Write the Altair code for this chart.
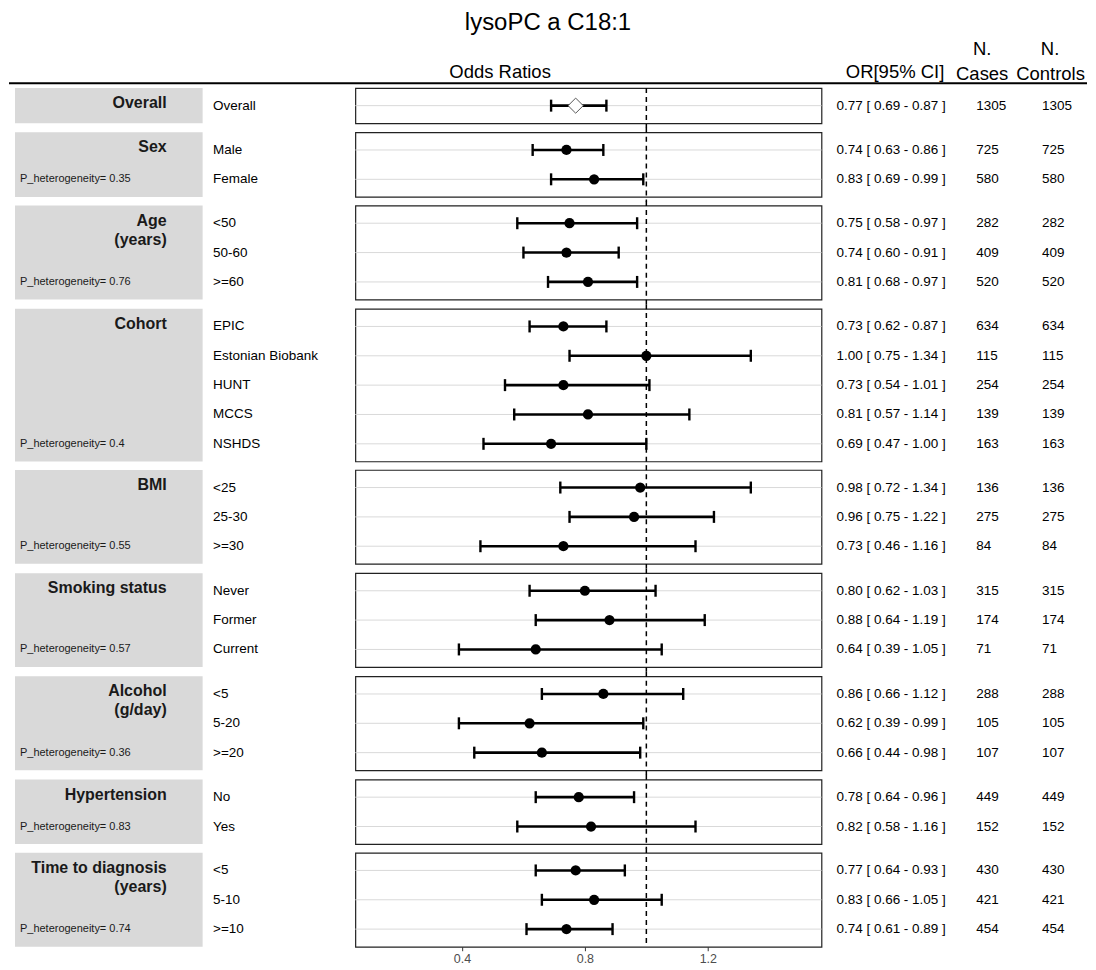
import altair as alt
import pandas as pd

FONT = "Liberation Sans, Arial, Helvetica, sans-serif"

# ---------------- data ----------------
group_keys = ["Overall", "Sex", "Age", "Cohort", "BMI", "Smoking", "Alcohol", "Hypertension", "Time"]
strip_labels = ["Overall", "Sex", "Age\u00a0\n(years)", "Cohort", "BMI", "Smoking status",
                "Alcohol\u00a0\n(g/day)", "Hypertension", "Time to diagnosis\u00a0\n(years)"]
p_heterogeneity = ["", "0.35", "0.76", "0.4", "0.55", "0.57", "0.36", "0.83", "0.74"]

row_group = (["Overall"] + ["Sex"] * 2 + ["Age"] * 3 + ["Cohort"] * 5 + ["BMI"] * 3
             + ["Smoking"] * 3 + ["Alcohol"] * 3 + ["Hypertension"] * 2 + ["Time"] * 3)
subgroup = ["Overall",
            "Male", "Female",
            "<50", "50-60", ">=60",
            "EPIC", "Estonian Biobank", "HUNT", "MCCS", "NSHDS",
            "<25", "25-30", ">=30",
            "Never", "Former", "Current",
            "<5", "5-20", ">=20",
            "No", "Yes",
            "<5", "5-10", ">=10"]
odds_ratio = [0.77,
              0.74, 0.83,
              0.75, 0.74, 0.81,
              0.73, 1.00, 0.73, 0.81, 0.69,
              0.98, 0.96, 0.73,
              0.80, 0.88, 0.64,
              0.86, 0.62, 0.66,
              0.78, 0.82,
              0.77, 0.83, 0.74]
ci_lower = [0.69,
            0.63, 0.69,
            0.58, 0.60, 0.68,
            0.62, 0.75, 0.54, 0.57, 0.47,
            0.72, 0.75, 0.46,
            0.62, 0.64, 0.39,
            0.66, 0.39, 0.44,
            0.64, 0.58,
            0.64, 0.66, 0.61]
ci_upper = [0.87,
            0.86, 0.99,
            0.97, 0.91, 0.97,
            0.87, 1.34, 1.01, 1.14, 1.00,
            1.34, 1.22, 1.16,
            1.03, 1.19, 1.05,
            1.12, 0.99, 0.98,
            0.96, 1.16,
            0.93, 1.05, 0.89]
n_cases = [1305,
           725, 580,
           282, 409, 520,
           634, 115, 254, 139, 163,
           136, 275, 84,
           315, 174, 71,
           288, 105, 107,
           449, 152,
           430, 421, 454]
n_controls = [1305,
              725, 580,
              282, 409, 520,
              634, 115, 254, 139, 163,
              136, 275, 84,
              315, 174, 71,
              288, 105, 107,
              449, 152,
              430, 421, 454]

df = pd.DataFrame({
    "group": row_group, "sub": subgroup, "or": odds_ratio,
    "lower": ci_lower, "upper": ci_upper,
    "cases": n_cases, "controls": n_controls,
})
df["row"] = df.groupby("group").cumcount()
df["ortext"] = [f"{o:.2f} [ {l:.2f} - {u:.2f} ]" for o, l, u in zip(df["or"], df["lower"], df["upper"])]
df["cases_t"] = df["cases"].astype(str)
df["controls_t"] = df["controls"].astype(str)

# ---------------- layout ----------------
U = 29.4          # px per row
GAP = 8.4         # gap between panels
W_STRIP, W_LAB, W_FOREST, W_OR, W_CASES, W_CTRL = 194, 153, 467, 148, 66, 52
XDOMAIN = [0.053, 1.570]
NOVIEW = alt.ViewBackground(stroke=None, fill=None)

txt = dict(font=FONT, color="black")


def yscale(n):
    return alt.Scale(domain=[-0.6, n - 0.4], reverse=True, nice=False, zero=False)


cells = []
ng = len(group_keys)
for gi, key in enumerate(group_keys):
    gdf = df[df["group"] == key].reset_index(drop=True)
    n = len(gdf)
    h = U * (n + 0.2)
    ys = yscale(n)
    Y = alt.Y("row:Q", scale=ys, axis=None)
    last = gi == ng - 1

    # ---- strip ----
    strip_bg = alt.Chart(pd.DataFrame({"k": [key]})).mark_rect(color="#d9d9d9").encode(
        x=alt.value(6), x2=alt.value(W_STRIP), y=alt.value(0), y2=alt.value(h))
    strip_lab = alt.Chart(pd.DataFrame({"label": [strip_labels[gi]]})).mark_text(
        align="right", baseline="top", fontSize=16, fontWeight="bold", font=FONT,
        color="#1a1a1a", lineBreak="\n", lineHeight=19).encode(
        x=alt.value(158), y=alt.value(7), text="label:N")
    strip_layers = [strip_bg, strip_lab]
    if p_heterogeneity[gi]:
        pdf = pd.DataFrame({"row": [n - 1], "p": ["P_heterogeneity= " + p_heterogeneity[gi]]})
        strip_layers.append(alt.Chart(pdf).mark_text(
            align="left", baseline="middle", fontSize=11, font=FONT, color="#1a1a1a").encode(
            x=alt.value(11), y=Y, text="p:N"))
    strip = alt.layer(*strip_layers).properties(width=W_STRIP, height=h, view=NOVIEW)

    # ---- subgroup labels ----
    labs = alt.Chart(gdf).mark_text(align="left", baseline="middle", fontSize=13.5, **txt).encode(
        x=alt.value(10.5), y=Y, text="sub:N").properties(width=W_LAB, height=h, view=NOVIEW)

    # ---- forest ----
    if last:
        xaxis = alt.Axis(values=[0.4, 0.8, 1.2], format=".1f", title=None, grid=False, domain=False,
                         labelFont=FONT, labelFontSize=12.5, labelColor="#4d4d4d",
                         tickColor="#333333", tickSize=4, labelPadding=2)
    else:
        xaxis = None
    xs = alt.Scale(domain=XDOMAIN, nice=False, zero=False)

    def X(f):
        return alt.X(f, scale=xs, axis=xaxis)

    base = alt.Chart(gdf)
    grid = base.mark_rule(color="#d9d9d9", strokeWidth=1).encode(y=Y)
    top = 0 if gi == 0 else -GAP / 2 - 0.5
    bot = h if last else h + GAP / 2 + 0.5
    ref = alt.Chart(pd.DataFrame({"ref": [1.0]})).mark_rule(
        color="black", strokeWidth=1.5, strokeDash=[5, 4]).encode(
        x=X("ref:Q"), y=alt.value(top), y2=alt.value(bot))
    bar = base.mark_rule(color="black", strokeWidth=2.6).encode(x=X("lower:Q"), x2="upper:Q", y=Y)
    cap_l = base.mark_tick(orient="vertical", size=12, thickness=2.4, color="black", opacity=1).encode(
        x=X("lower:Q"), y=Y)
    cap_u = base.mark_tick(orient="vertical", size=12, thickness=2.4, color="black", opacity=1).encode(
        x=X("upper:Q"), y=Y)
    if key == "Overall":
        pt = base.mark_point(shape="diamond", filled=True, fill="white", stroke="#555555",
                             strokeWidth=1, size=230, opacity=1, fillOpacity=1).encode(x=X("or:Q"), y=Y)
    else:
        pt = base.mark_point(shape="circle", filled=True, color="black", size=105, opacity=1).encode(
            x=X("or:Q"), y=Y)
    forest = alt.layer(grid, ref, bar, cap_l, cap_u, pt).properties(
        width=W_FOREST, height=h,
        view=alt.ViewBackground(stroke="#222222", strokeWidth=1.2, fill="white"))

    # ---- text columns ----
    ortxt = alt.Chart(gdf).mark_text(align="left", baseline="middle", fontSize=13.5, **txt).encode(
        x=alt.value(15), y=Y, text="ortext:N").properties(width=W_OR, height=h, view=NOVIEW)
    cases = alt.Chart(gdf).mark_text(align="left", baseline="middle", fontSize=13.5, **txt).encode(
        x=alt.value(7), y=Y, text="cases_t:N").properties(width=W_CASES, height=h, view=NOVIEW)
    ctrls = alt.Chart(gdf).mark_text(align="left", baseline="middle", fontSize=13.5, **txt).encode(
        x=alt.value(7), y=Y, text="controls_t:N").properties(width=W_CTRL, height=h, view=NOVIEW)

    cells.extend([strip, labs, forest, ortxt, cases, ctrls])

body = alt.concat(*cells, columns=6, spacing=alt.RowColnumber(row=GAP, column=0), bounds="flush")

# ---------------- header ----------------
HW, HH = 1080, 76
one = pd.DataFrame({"a": [0]})


def htext(s, x, y, size, align="center"):
    return alt.Chart(pd.DataFrame({"t": [s]})).mark_text(
        align=align, baseline="alphabetic", fontSize=size, font=FONT, color="black").encode(
        x=alt.value(x), y=alt.value(y), text="t:N")


header = alt.layer(
    htext("lysoPC a C18:1", 540, 21, 24),
    htext("Odds Ratios", 492, 69.3, 18.5),
    htext("OR[95% CI]", 937, 69.3, 18.5, align="right"),
    htext("N.", 975, 46.3, 18.5),
    htext("Cases", 975, 71, 18.5),
    htext("N.", 1043, 46.3, 18.5),
    htext("Controls", 1043.5, 71, 18.5),
    alt.Chart(one).mark_rule(color="black", strokeWidth=2).encode(
        x=alt.value(0), x2=alt.value(HW), y=alt.value(74.5)),
).properties(width=HW, height=HH, view=NOVIEW)

chart = alt.vconcat(header, body, spacing=3.3, bounds="flush").properties(
    padding={"left": 0, "top": 0, "right": 0, "bottom": 2},
    background="white",
).configure_view(stroke=None)

chart.save("out.html", embed_options={"renderer": "svg", "actions": False})
